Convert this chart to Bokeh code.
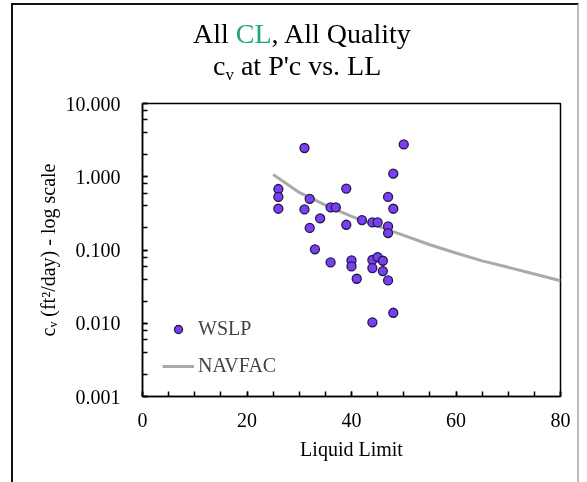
from bokeh.plotting import figure
from bokeh.models import (Legend, LegendItem, LogTicker, Div,
                          SingleIntervalTicker, PrintfTickFormatter, Range1d, ColumnDataSource)
from bokeh.layouts import column
from bokeh.embed import file_html
from bokeh.resources import INLINE

# ---- data ----
wslp_ll = [31, 50, 48, 26, 26, 26, 39, 32, 31, 36, 37, 47, 48, 34, 32, 39, 42, 44, 45,
           47, 47, 33, 36, 40, 40, 44, 45, 46, 44, 46, 41, 47, 48, 44]
wslp_cv = [2.47, 2.76, 1.10, 0.68, 0.53, 0.366, 0.69, 0.50, 0.358, 0.381, 0.381, 0.53,
           0.366, 0.27, 0.20, 0.221, 0.256, 0.238, 0.238, 0.21, 0.17, 0.102, 0.0676,
           0.072, 0.0596, 0.073, 0.080, 0.0713, 0.0567, 0.0516, 0.0405, 0.0384, 0.0139, 0.0103]
navfac_ll = [25, 30, 35, 40, 45, 50, 55, 60, 65, 70, 75, 80]
navfac_cv = [1.07, 0.61, 0.41, 0.288, 0.212, 0.158, 0.118, 0.091, 0.071, 0.058, 0.047, 0.038]

x_ticks_interval = 20
title_1 = ["All ", "CL", ", All Quality"]
title_2 = ["c", "v", " at P'c vs. LL"]
x_label = "Liquid Limit"
y_label = "c\u1d65 (ft\u00b2/day) - log scale"
series_names = ["WSLP", "NAVFAC"]

FONT = "Liberation Serif"
W, H = 587, 482
TITLE_H = 82
FL, FR, FT, FB = 142, 560, 103, 396   # frame edges in page pixels

# ---- title block (HTML, so that "CL" can be coloured) ----
border_box = ('<div style="position:fixed;left:11px;top:3px;width:568px;height:520px;'
              'border-left:2px solid #111;border-top:2px solid #111;'
              'border-right:2px solid #bbb;pointer-events:none;z-index:10"></div>')
line_style = (f"position:fixed;white-space:nowrap;font-family:'{FONT}';font-size:28px;"
              "line-height:32px;color:black;margin:0;padding:0")
title_html = (
    border_box +
    f'<div style="{line_style};left:193px;top:18px">'
    f'{title_1[0]}<span style="color:#1fa37a">{title_1[1]}</span>{title_1[2]}</div>'
    f'<div style="{line_style};left:213px;top:50px">'
    f'{title_2[0]}<span style="font-size:17px;vertical-align:-5px;line-height:0">{title_2[1]}</span>'
    f'{title_2[2]}</div>'
)
title_div = Div(text=title_html, width=W, height=TITLE_H, margin=(0, 0, 0, 0),
                styles={"background": "white"})

p = figure(width=W, height=H - TITLE_H, y_axis_type="log", output_backend="svg",
           toolbar_location=None, x_range=Range1d(0, 80), y_range=Range1d(0.001, 10),
           min_border_left=FL, min_border_right=W - FR, min_border_top=FT - TITLE_H,
           min_border_bottom=H - FB, margin=(0, 0, 0, 0))
p.xgrid.visible = False
p.ygrid.visible = False
p.outline_line_color = "black"
p.outline_line_width = 1.5
p.background_fill_color = "white"
p.border_fill_color = "white"

# axes
p.xaxis.ticker = SingleIntervalTicker(interval=x_ticks_interval, num_minor_ticks=4)
p.yaxis.ticker = LogTicker()
p.yaxis.formatter = PrintfTickFormatter(format="%.3f")
for ax in (p.xaxis[0], p.yaxis[0]):
    ax.axis_line_color = "black"
    ax.axis_line_width = 1.5
    ax.major_tick_in = 5
    ax.major_tick_out = 0
    ax.minor_tick_in = 5
    ax.minor_tick_out = 0
    ax.major_tick_line_color = "black"
    ax.minor_tick_line_color = "black"
    ax.major_tick_line_width = 1.5
    ax.minor_tick_line_width = 1.5
    ax.major_label_text_font = FONT
    ax.major_label_text_font_size = "20px"
    ax.major_label_text_color = "black"
    ax.axis_label_text_font = FONT
    ax.axis_label_text_font_size = "20px"
    ax.axis_label_text_font_style = "normal"
    ax.axis_label_text_color = "black"
p.xaxis.axis_label = x_label
p.yaxis.axis_label = y_label
p.xaxis.major_label_standoff = 16
p.yaxis.major_label_standoff = 22
p.xaxis.axis_label_standoff = 8
p.yaxis.axis_label_standoff = 4

# glyphs
line_r = p.line(navfac_ll, navfac_cv, line_color="#aaaaaa", line_width=3)
src = ColumnDataSource(dict(x=wslp_ll, y=wslp_cv))
pts_r = p.scatter("x", "y", source=src, size=9, fill_color="#7b3ff0",
                  line_color="#1e1b4b", line_width=1.3)

legend = Legend(items=[LegendItem(label=series_names[0], renderers=[pts_r]),
                       LegendItem(label=series_names[1], renderers=[line_r])],
                location=(20, 19), padding=0, margin=0, spacing=14,
                glyph_width=32, glyph_height=20, label_height=20, label_standoff=4,
                border_line_color=None, background_fill_alpha=0,
                label_text_font=FONT, label_text_font_size="20px")
p.add_layout(legend, "center")

layout = column(title_div, p, spacing=0, margin=(0, 0, 0, 0))
open("out.html", "w").write(file_html(layout, INLINE))
